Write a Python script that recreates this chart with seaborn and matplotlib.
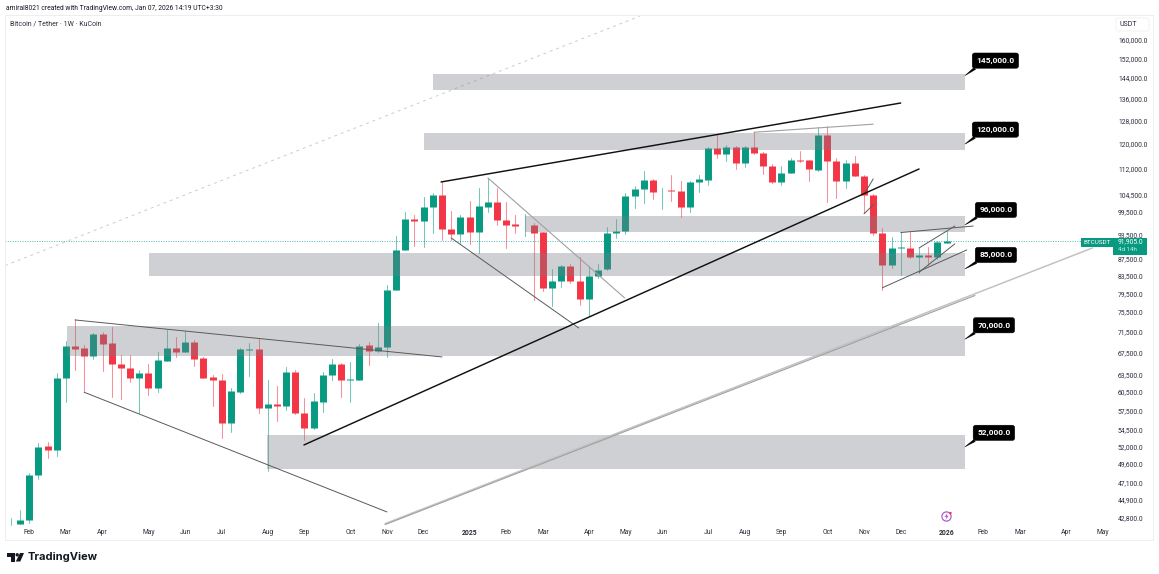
import numpy as np
import pandas as pd
import matplotlib
matplotlib.use("Agg")
import matplotlib.pyplot as plt
from matplotlib.patches import Rectangle, Polygon, Circle, FancyBboxPatch
from matplotlib.transforms import Affine2D
import seaborn as sns

OUT_PATH = "out.png"

# weekly candles, first one is the week of 2024-01-22
OPENS = [42000, 42020, 42450, 48100, 52050, 51500, 62900, 68770, 68270, 66900, 71050, 69200, 65400, 64650, 62900,
         63800, 61250, 65950, 68270, 67600, 69470, 66400, 63050, 62550, 55600, 60560, 68000, 68090, 57950, 58500,
         58180, 64000, 57150, 54750, 58900, 63430, 65400, 62600, 62600, 68900, 67850, 68500, 80210, 89580, 97600,
         97000, 100900, 104300, 94950, 93600, 98150, 94200, 101000, 102300, 97400, 96150, 95900, 96000, 94100, 80600,
         82300, 85650, 82200, 78250, 83300, 84900, 93900, 94500, 104000, 106000, 108690, 105600, 105700, 105500,
         100900, 108000, 108700, 118600, 116800, 119100, 113800, 118900, 117000, 113100, 108000, 110900, 114950,
         114860, 111700, 123200, 114600, 108400, 114000, 110000, 104300, 93900, 86000, 90100, 90100, 87800, 88300,
         87800, 91400]
HIGHS = [42700, 43680, 48400, 52600, 52700, 63700, 69700, 73970, 68900, 71300, 71400, 72450, 67000, 67000, 64310,
         65300, 67530, 71820, 70500, 71620, 69860, 66700, 63400, 63600, 61150, 68300, 69250, 70000, 62550, 61500,
         64800, 64310, 59570, 60400, 63900, 66300, 65500, 65800, 69000, 69500, 73300, 81350, 93100, 99500, 98600,
         103600, 104800, 108200, 99800, 98650, 102600, 106200, 109200, 106200, 102200, 98600, 99000, 96500, 94200,
         85100, 85900, 86200, 87800, 85600, 86200, 95400, 97600, 104800, 106800, 111400, 109000, 106400, 110200,
         108500, 108300, 110300, 119100, 123000, 119800, 119400, 119400, 124200, 117300, 113500, 113100, 115400,
         117800, 115000, 125900, 126000, 115500, 115000, 116000, 110200, 104500, 95300, 92900, 94100, 94200, 90100,
         90300, 91700, 94400]
LOWS = [41950, 42000, 42180, 47600, 50400, 50750, 58820, 64310, 60450, 66250, 64200, 59750, 59350, 62250, 57050,
        60000, 60560, 65900, 66600, 67500, 65000, 62900, 58200, 53250, 54230, 60400, 63200, 57050, 48650, 55900,
        57580, 57000, 53000, 54700, 57300, 62550, 59750, 58900, 62500, 65200, 67500, 66700, 80100, 89500, 90600,
        90200, 93750, 92090, 92090, 91250, 91000, 88900, 99500, 96000, 90000, 94000, 93000, 78030, 80000, 76700,
        80800, 81800, 76900, 74700, 82900, 84800, 92500, 93600, 100500, 101900, 103050, 100200, 102650, 98000,
        99400, 105000, 107300, 115600, 114600, 112000, 112500, 116900, 110400, 107800, 107300, 110800, 114100,
        108500, 111500, 102300, 103300, 106400, 109900, 99200, 93300, 80210, 85200, 83500, 87700, 84000, 86000,
        87400, 91300]
CLOSES = [42030, 42450, 48100, 52000, 51500, 62900, 68770, 68150, 66900, 71050, 69100, 65450, 64600, 62900, 63800,
          61250, 66110, 68270, 67600, 69470, 66350, 62950, 62500, 55600, 60680, 68090, 68090, 57950, 58500, 58180,
          64000, 57050, 54750, 58980, 63430, 65400, 62600, 62700, 68770, 67850, 68450, 80210, 89580, 97600, 97000,
          100900, 104300, 94950, 93600, 98150, 94200, 101100, 102300, 97400, 96100, 95700, 96000, 94000, 80600, 82300,
          85650, 82200, 78250, 83400, 84770, 93900, 94500, 104100, 106100, 108690, 105200, 105700, 105550, 100900,
          108000, 109000, 118600, 116800, 119100, 113800, 118900, 117000, 113100, 108000, 110900, 114860, 114500,
          111900, 123000, 114600, 108400, 114000, 110000, 104300, 93800, 86000, 90100, 90200, 87800, 88300, 87800,
          91500, 91905]

# support / resistance zones
ZONE_PRICES = [145000, 120000, 96000, 85000, 70000, 52000]
ZONE_LOW = [139360, 118080, 94230, 83370, 66850, 48920]
ZONE_HIGH = [145650, 123750, 98400, 88880, 72620, 53730]
ZONE_START = [45, 44, 55, 14.06, 5.09, 26.9]
ZONE_END = 103

# trend lines as week1, price1, week2, price2
BLACK_LINES = [(45.9, 108090, 96.0, 134440), (30.95, 52270, 98.0, 112040)]
DARK_LINES = [(6.0, 73830, 46.0, 66660), (7.0, 60460, 40.0, 43440), (47.0, 92600, 60.9, 72220),
              (92.1, 104900, 93.0, 109000), (92.0, 99000, 93.0, 101440), (96.0, 94000, 103.9, 95700),
              (94.0, 80700, 103.2, 89580), (98.0, 84240, 101.9, 91100), (98.0, 90070, 101.9, 95700)]
GREY_LINES = [(51.0, 109300, 65.9, 78470), (80.0, 124000, 93.0, 126800), (39.8, 41950, 104.1, 79000)]
PALE_LINES = [(39.8, 42060, 116.9, 90080)]
DASHED_LINE = (-1.63, 85800, 67.6, 170970)

LAST_PRICE = 91905

Y_TICKS = [160000, 152000, 144000, 136000, 128000, 120000, 112000, 104500, 99500, 93500, 87500, 83500, 79500,
           75500, 71500, 67500, 63500, 60500, 57500, 54500, 52000, 49600, 47100, 44900, 42800]
X_TICK_DATES = ["2024-02-05", "2024-03-04", "2024-04-01", "2024-05-06", "2024-06-03", "2024-07-01", "2024-08-05",
                "2024-09-02", "2024-10-07", "2024-11-04", "2024-12-02", "2025-01-06", "2025-02-03", "2025-03-03",
                "2025-04-07", "2025-05-05", "2025-06-02", "2025-07-07", "2025-08-04", "2025-09-01", "2025-10-06",
                "2025-11-03", "2025-12-01", "2026-01-05", "2026-02-02", "2026-03-02", "2026-04-06", "2026-05-04"]
X_TICK_LABELS = ["Feb", "Mar", "Apr", "May", "Jun", "Jul", "Aug", "Sep", "Oct", "Nov", "Dec", "2025", "Feb", "Mar",
                 "Apr", "May", "Jun", "Jul", "Aug", "Sep", "Oct", "Nov", "Dec", "2026", "Feb", "Mar", "Apr", "May"]

GREEN = "#089981"
RED = "#f23645"
W, H = 1159, 574


def week_of(date):
    return (pd.Timestamp(date) - pd.Timestamp("2024-01-29")).days / 7


def candle_frames():
    weeks = np.arange(len(OPENS)) - 1
    wick_rows, body_rows = [], []
    for wk, o, hi, lo, c in zip(weeks, OPENS, HIGHS, LOWS, CLOSES):
        side = "up" if c >= o else "down"
        wick_rows += [(wk, hi, side), (wk, lo, side)]
        body_rows += [(wk, o, side), (wk, c, side)]
    cols = ["week", "price", "side"]
    return pd.DataFrame(wick_rows, columns=cols), pd.DataFrame(body_rows, columns=cols)


def draw_lines(ax, lines, **kws):
    for x1, y1, x2, y2 in lines:
        sns.lineplot(x=[x1, x2], y=[y1, y2], ax=ax, estimator=None, sort=False, zorder=6, **kws)


def main():
    sns.set_theme(style="white")
    plt.rcParams["font.family"] = ["Roboto", "DejaVu Sans"]

    fig = plt.figure(figsize=(W / 100, H / 100), dpi=100, facecolor="white")
    ax = fig.add_axes([5 / W, 1 - 540 / H, 1148 / W, 525 / H])
    ax.set_yscale("log")

    wicks, bodies = candle_frames()
    palette = {"up": GREEN, "down": RED}
    sns.lineplot(data=wicks, x="week", y="price", hue="side", units="week", estimator=None, sort=False,
                 palette=palette, linewidth=0.75, alpha=0.55, legend=False, ax=ax, zorder=3)
    sns.lineplot(data=bodies, x="week", y="price", hue="side", units="week", estimator=None, sort=False,
                 palette=palette, linewidth=5.0, solid_capstyle="butt", legend=False, ax=ax, zorder=4)

    ax.set_xlim(-1.635, 123.5)
    ax.set_ylim(40200, 171440)

    # zones sit over the candles
    for lo, hi, start in zip(ZONE_LOW, ZONE_HIGH, ZONE_START):
        ax.add_patch(Rectangle((start, lo), ZONE_END - start, hi - lo, facecolor="#787b86", alpha=0.35,
                               linewidth=0, zorder=5))

    draw_lines(ax, PALE_LINES, color="#c2c2c2", linewidth=1.1)
    draw_lines(ax, GREY_LINES, color="#a0a0a0", linewidth=0.8)
    draw_lines(ax, DARK_LINES, color="#5a5a5a", linewidth=0.7)
    draw_lines(ax, BLACK_LINES, color="#111111", linewidth=1.05)
    x1, y1, x2, y2 = DASHED_LINE
    sns.lineplot(x=[x1, x2], y=[y1, y2], ax=ax, estimator=None, sort=False, color="#cccccc", linewidth=0.7,
                 linestyle=(0, (3, 4)), zorder=2)

    # last price line
    ax.axhline(LAST_PRICE, xmax=(1081 - 5) / 1148, color="#26a69a", linewidth=0.7, linestyle=(0, (1, 1.5)),
               alpha=0.8, zorder=2)

    # callouts, the tip points at the level they name
    box_offsets = [(30.5, 15), (30.5, 14.5), (31, 15), (31, 14), (29, 14), (29, 14)]
    for price, off in zip(ZONE_PRICES, box_offsets):
        ax.annotate(f"{price:,.1f}", xy=(ZONE_END, price), xytext=off, textcoords="offset pixels",
                    color="white", fontsize=6, fontweight="bold", ha="center", va="center", zorder=9,
                    bbox=dict(boxstyle="round,pad=0.5,rounding_size=0.3", fc="black", ec="black", lw=0.3),
                    arrowprops=dict(arrowstyle="wedge,tail_width=0.3,shrink_factor=0.5", fc="black", ec="black",
                                    lw=0.3, shrinkA=0, shrinkB=0, relpos=(0.14, 0.1)))

    # axes furniture
    ax.yaxis.tick_right()
    ax.set_yticks(Y_TICKS)
    ax.set_yticklabels([f"{v:,.1f}" for v in Y_TICKS])
    ax.minorticks_off()
    ax.tick_params(axis="y", which="both", length=0, pad=-25.2, labelsize=4.9, labelcolor="#2a2e39")
    ax.set_xticks([week_of(d) for d in X_TICK_DATES])
    ax.set_xticklabels(X_TICK_LABELS)
    ax.tick_params(axis="x", length=0, pad=-8.2, labelsize=4.9, labelcolor="#2a2e39")
    for tick in ax.get_xticklabels():
        if tick.get_text() in ("2025", "2026"):
            tick.set_fontweight("bold")
    ax.set_xlabel("")
    ax.set_ylabel("")
    for spine in ax.spines.values():
        spine.set_color("#eeeeee")
        spine.set_linewidth(0.7)

    # everything below is placed in picture pixels
    px = Affine2D().scale(1 / W, -1 / H).translate(0, 1) + fig.transFigure
    fig.text(6 / W, 1 - 8 / H, "amiral8021 created with TradingView.com, Jan 07, 2026 14:19 UTC+3:30",
             fontsize=4.9, color="#131722", va="center")
    fig.text(10 / W, 1 - 23.5 / H, "Bitcoin / Tether · 1W · KuCoin", fontsize=5, color="#2a2e39", va="center")

    fig.add_artist(FancyBboxPatch((1116, 18), 33, 13, boxstyle="round,pad=0,rounding_size=2", fc="white",
                                  ec="#f0f0f0", lw=0.6, transform=px, zorder=8))
    fig.text(1120 / W, 1 - 24.5 / H, "USDT", fontsize=5, color="#2a2e39", va="center", zorder=9)

    fig.add_artist(Rectangle((1081, 237.5), 32, 9.5, fc=GREEN, ec="none", transform=px, zorder=8))
    fig.add_artist(Rectangle((1113, 237.5), 34, 17, fc=GREEN, ec="none", transform=px, zorder=8))
    fig.text(1097 / W, 1 - 242.3 / H, "BTCUSDT", fontsize=4.6, color="white", ha="center", va="center", zorder=9)
    fig.text(1118 / W, 1 - 241.8 / H, f"{LAST_PRICE:,.1f}", fontsize=4.9, color="white", va="center", zorder=9)
    fig.text(1118 / W, 1 - 249.6 / H, "4d 14h", fontsize=4.5, color="#c4eee6", va="center", zorder=9)

    # event icon above the 2026 label
    fig.add_artist(Circle((946.5, 516.5), 4.6, fc="white", ec="#b05cc9", lw=0.9, transform=px, zorder=8))
    fig.add_artist(Polygon([(947.5, 513), (944.5, 517), (946.5, 517), (945.5, 520), (948.7, 515.8), (946.8, 515.8)],
                           fc="#b05cc9", ec="none", transform=px, zorder=9))
    fig.add_artist(Circle((950.5, 513), 1.2, fc="#f23645", ec="none", transform=px, zorder=9))

    # TradingView logo
    logo = "#131722"
    fig.add_artist(Polygon([(7, 553), (15, 553), (15, 561.5), (11, 561.5), (11, 556.5), (7, 556.5)],
                           fc=logo, ec="none", transform=px))
    fig.add_artist(Circle((17.2, 554.8), 1.7, fc=logo, ec="none", transform=px))
    fig.add_artist(Polygon([(20, 553), (24, 553), (20.3, 561.5), (15.8, 561.5)], fc=logo, ec="none", transform=px))
    fig.text(28 / W, 1 - 557 / H, "TradingView", fontsize=8, fontweight="bold", color="#131722", va="center",
             family=["Inter", "DejaVu Sans"])

    fig.savefig(OUT_PATH, dpi=100)


if __name__ == "__main__":
    main()
